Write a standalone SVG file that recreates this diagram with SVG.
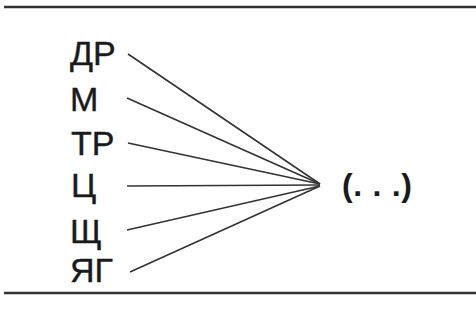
<svg xmlns="http://www.w3.org/2000/svg" width="476" height="325" viewBox="0 0 476 325">
<style>
.lbl{font-family:"Liberation Sans",Arial,sans-serif;font-size:34px;fill:#1a1a1a;stroke:#1a1a1a;stroke-width:0.4}
.tgt{font-family:"Liberation Sans",Arial,sans-serif;font-size:32px;font-weight:bold;fill:#1a1a1a}
.c line{stroke:#333;stroke-width:1.6}
.rule{stroke:#333;stroke-width:2.5}
</style>
<rect width="476" height="325" fill="#fff"/>
<line class="rule" x1="4" y1="7" x2="476" y2="7"/>
<line class="rule" x1="4" y1="293" x2="476" y2="293"/>
<g id="n-dr"><text class="lbl" x="70" y="65">ДР</text></g>
<g id="n-m"><text class="lbl" x="70" y="111">М</text></g>
<g id="n-tr"><text class="lbl" x="71" y="155">ТР</text></g>
<g id="n-c"><text class="lbl" x="71" y="197">Ц</text></g>
<g id="n-sch"><text class="lbl" x="70" y="243">Щ</text></g>
<g id="n-yag"><text class="lbl" x="70" y="282">ЯГ</text></g>
<g id="n-target"><text class="tgt" x="342" y="196" textLength="70" lengthAdjust="spacing">(. . .)</text></g>
<g class="c" id="connectors">
<line x1="128" y1="54" x2="320" y2="184"/>
<line x1="127" y1="98" x2="320" y2="184"/>
<line x1="128" y1="143" x2="320" y2="184"/>
<line x1="127" y1="186" x2="320" y2="185"/>
<line x1="127" y1="230" x2="320" y2="186"/>
<line x1="130" y1="272" x2="320" y2="186"/>
</g>
</svg>
